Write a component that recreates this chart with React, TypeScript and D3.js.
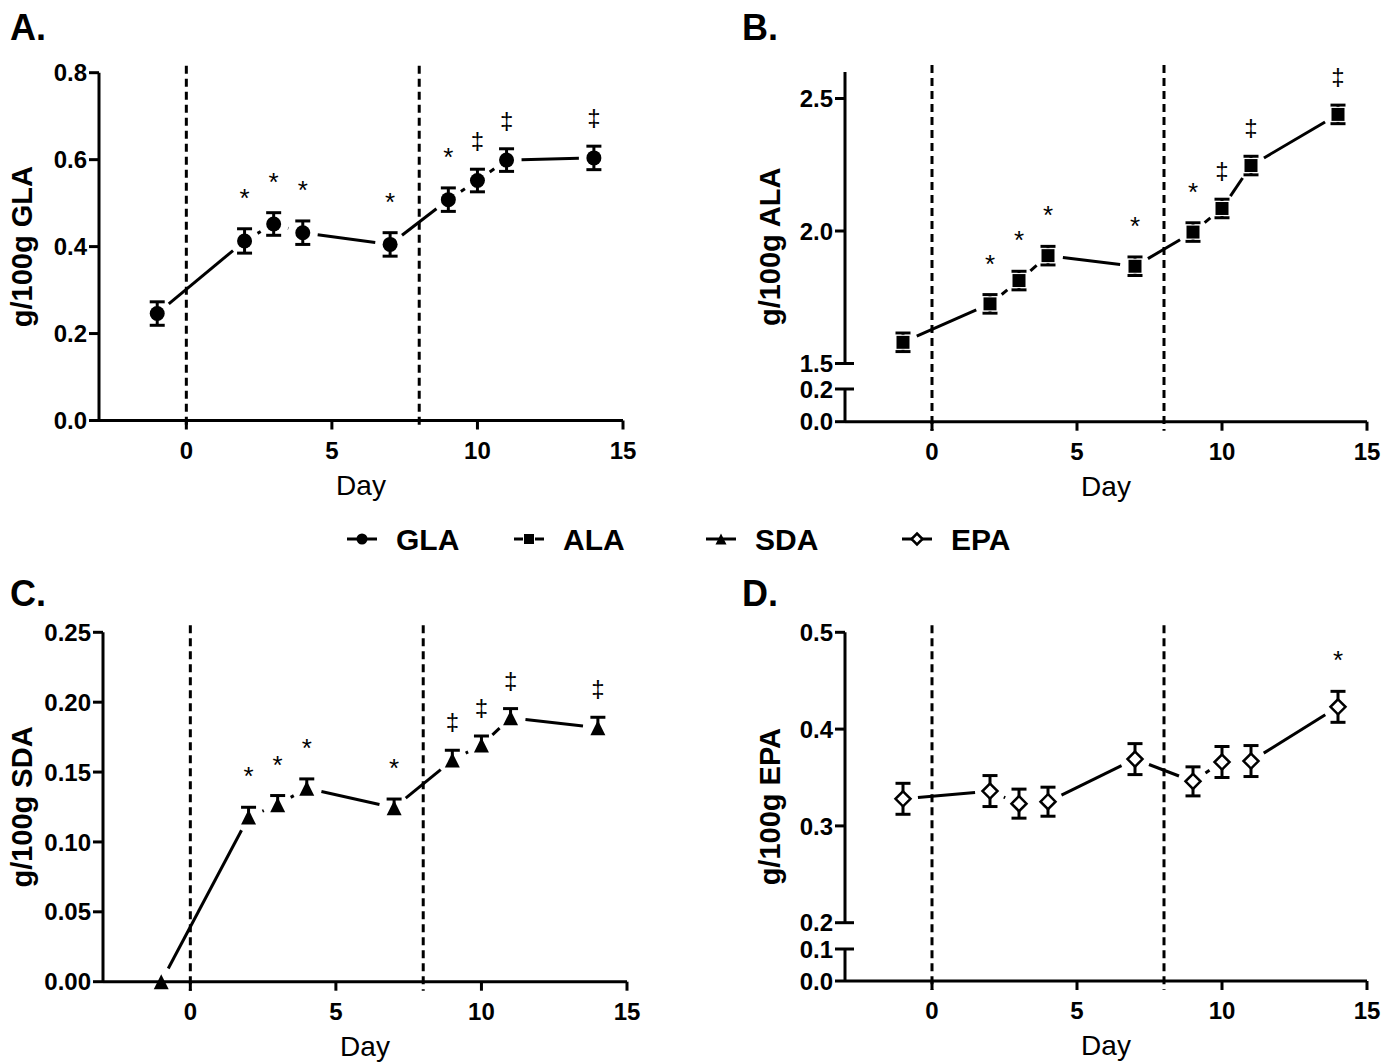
import { useEffect, useRef } from 'react';
import * as d3 from 'd3';

// sampling days and the two intervention markers
const days = [-1, 2, 3, 4, 7, 9, 10, 11, 14];
const phaseLines = [0, 8];
const xTicks = [0, 5, 10, 15];

// GLA (g/100g)
const glaMean = [0.246, 0.413, 0.452, 0.432, 0.405, 0.508, 0.552, 0.599, 0.604];
const glaErr = [0.027, 0.028, 0.026, 0.027, 0.027, 0.027, 0.026, 0.026, 0.027];
const glaSig = ['', '*', '*', '*', '*', '*', '‡', '‡', '‡'];

// ALA (g/100g)
const alaMean = [1.58, 1.725, 1.813, 1.907, 1.867, 1.996, 2.085, 2.247, 2.44];
const alaErr = [0.035, 0.035, 0.035, 0.035, 0.035, 0.035, 0.035, 0.035, 0.035];
const alaSig = ['', '*', '*', '*', '*', '*', '‡', '‡', '‡'];

// SDA (g/100g)
const sdaMean = [0, 0.1178, 0.1266, 0.1385, 0.1245, 0.1586, 0.1693, 0.1888, 0.1817];
const sdaErr = [0, 0.007, 0.0066, 0.0066, 0.0062, 0.007, 0.0065, 0.0066, 0.0075];
const sdaSig = ['', '*', '*', '*', '*', '‡', '‡', '‡', '‡'];

// EPA (g/100g)
const epaMean = [0.328, 0.336, 0.323, 0.325, 0.369, 0.346, 0.366, 0.367, 0.423];
const epaErr = [0.016, 0.016, 0.015, 0.015, 0.016, 0.015, 0.016, 0.016, 0.016];
const epaSig = ['', '', '', '', '', '', '', '', '*'];

const legendNames = ['GLA', 'ALA', 'SDA', 'EPA'];

const FONT = 'Arial, "Liberation Sans", sans-serif';

const App = () => {
    const ref = useRef(null);

    useEffect(() => {
        const svg = d3.select(ref.current);
        svg.selectAll('*').remove();

        const panels = [
            {
                letter: 'A.', lx: 10, ly: 40, title: 'g/100g GLA', titleX: 22,
                xRange: [99, 623], mean: glaMean, err: glaErr, sig: glaSig, shape: 'circle', upOnly: false,
                segs: [{ domain: [0, 0.8], range: [420.5, 72.7], ticks: [0, 0.2, 0.4, 0.6, 0.8], fmt: '.1f' }],
            },
            {
                letter: 'B.', lx: 742, ly: 40, title: 'g/100g ALA', titleX: 770,
                xRange: [845, 1367], mean: alaMean, err: alaErr, sig: alaSig, shape: 'square', upOnly: false,
                segs: [
                    { domain: [1.5, 2.6], range: [363.5, 72], ticks: [1.5, 2.0, 2.5], fmt: '.1f', breakBottom: true },
                    { domain: [0, 0.2], range: [421.7, 389], ticks: [0, 0.2], fmt: '.1f', breakTop: true },
                ],
            },
            {
                letter: 'C.', lx: 10, ly: 606, title: 'g/100g SDA', titleX: 22,
                xRange: [103, 627], mean: sdaMean, err: sdaErr, sig: sdaSig, shape: 'triangle', upOnly: true,
                segs: [{ domain: [0, 0.25], range: [981.7, 632.3], ticks: [0, 0.05, 0.1, 0.15, 0.2, 0.25], fmt: '.2f' }],
            },
            {
                letter: 'D.', lx: 742, ly: 606, title: 'g/100g EPA', titleX: 770,
                xRange: [845, 1367], mean: epaMean, err: epaErr, sig: epaSig, shape: 'diamond', upOnly: false,
                segs: [
                    { domain: [0.2, 0.5], range: [922.7, 632.3], ticks: [0.2, 0.3, 0.4, 0.5], fmt: '.1f', breakBottom: true },
                    { domain: [0, 0.1], range: [981, 949], ticks: [0, 0.1], fmt: '.1f', breakTop: true },
                ],
            },
        ];

        // draws one marker glyph at (cx, cy)
        const drawMarker = (g, shape, cx, cy, s) => {
            if (shape === 'circle') {
                g.append('circle').attr('cx', cx).attr('cy', cy).attr('r', s).attr('fill', 'black');
            } else if (shape === 'square') {
                g.append('rect').attr('x', cx - s).attr('y', cy - s).attr('width', 2 * s).attr('height', 2 * s)
                    .attr('fill', 'black').attr('stroke', 'white').attr('stroke-width', 1);
            } else if (shape === 'triangle') {
                g.append('path')
                    .attr('d', `M${cx},${cy - s}L${cx + s},${cy + s}L${cx - s},${cy + s}Z`)
                    .attr('fill', 'black');
            } else {
                g.append('path')
                    .attr('d', `M${cx},${cy - s}L${cx + s},${cy}L${cx},${cy + s}L${cx - s},${cy}Z`)
                    .attr('fill', 'white').attr('stroke', 'black').attr('stroke-width', 2.5);
            }
        };

        const markerSize = { circle: 7.5, square: 7, triangle: 7.5, diamond: 7.5 };

        panels.forEach((p) => {
            const g = svg.append('g');
            const x = d3.scaleLinear().domain([-3, 15]).range(p.xRange);
            const segScales = p.segs.map((s) => d3.scaleLinear().domain(s.domain).range(s.range));
            const y = (v) => {
                for (let i = 0; i < p.segs.length; i++) {
                    if (v >= p.segs[i].domain[0] || i === p.segs.length - 1) return segScales[i](v);
                }
                return 0;
            };
            const axisX = p.xRange[0];
            const axisY = y(0);
            const top = d3.min(p.segs, (s) => s.range[1]);
            const bottom = p.segs[p.segs.length - 1].range[0];

            // panel letter
            g.append('text').attr('x', p.lx).attr('y', p.ly).text(p.letter)
                .attr('font-family', FONT).attr('font-weight', 'bold').attr('font-size', 36);

            // y title
            g.append('text')
                .attr('transform', `translate(${p.titleX},${(top + bottom) / 2}) rotate(-90)`)
                .attr('text-anchor', 'middle').attr('dominant-baseline', 'central')
                .attr('font-family', FONT).attr('font-weight', 'bold').attr('font-size', 29)
                .text(p.title);

            // y axis segments
            p.segs.forEach((s, i) => {
                const sc = segScales[i];
                g.append('line').attr('x1', axisX).attr('x2', axisX)
                    .attr('y1', s.range[0]).attr('y2', s.range[1])
                    .attr('stroke', 'black').attr('stroke-width', 3);
                s.ticks.forEach((t) => {
                    g.append('line').attr('x1', axisX - 10).attr('x2', axisX)
                        .attr('y1', sc(t)).attr('y2', sc(t))
                        .attr('stroke', 'black').attr('stroke-width', 3);
                    g.append('text').attr('x', axisX - 12).attr('y', sc(t)).attr('dy', '0.36em')
                        .attr('text-anchor', 'end')
                        .attr('font-family', FONT).attr('font-weight', 'bold').attr('font-size', 24)
                        .text(d3.format(s.fmt)(t));
                });
                if (s.breakBottom) {
                    g.append('line').attr('x1', axisX).attr('x2', axisX + 9)
                        .attr('y1', s.range[0]).attr('y2', s.range[0])
                        .attr('stroke', 'black').attr('stroke-width', 3);
                }
                if (s.breakTop) {
                    g.append('line').attr('x1', axisX).attr('x2', axisX + 9)
                        .attr('y1', s.range[1]).attr('y2', s.range[1])
                        .attr('stroke', 'black').attr('stroke-width', 3);
                }
            });

            // x axis
            g.append('line').attr('x1', axisX).attr('x2', x(15)).attr('y1', axisY).attr('y2', axisY)
                .attr('stroke', 'black').attr('stroke-width', 3);
            xTicks.forEach((t) => {
                g.append('line').attr('x1', x(t)).attr('x2', x(t)).attr('y1', axisY).attr('y2', axisY + 9)
                    .attr('stroke', 'black').attr('stroke-width', 3);
                g.append('text').attr('x', x(t)).attr('y', axisY + 38).attr('text-anchor', 'middle')
                    .attr('font-family', FONT).attr('font-weight', 'bold').attr('font-size', 24)
                    .text(t);
            });
            g.append('text').attr('x', (axisX + x(15)) / 2).attr('y', axisY + 74).attr('text-anchor', 'middle')
                .attr('font-family', FONT).attr('font-size', 28).text('Day');

            // dashed phase lines
            phaseLines.forEach((d) => {
                g.append('line').attr('x1', x(d)).attr('x2', x(d)).attr('y1', top - 7).attr('y2', axisY + 9)
                    .attr('stroke', 'black').attr('stroke-width', 3).attr('stroke-dasharray', '8,5');
            });

            // connecting line, cut back around each marker
            const pts = days.map((d, i) => [x(d), y(p.mean[i])]);
            const gap = 15;
            const line = d3.line();
            for (let i = 0; i < pts.length - 1; i++) {
                const [x1, y1] = pts[i];
                const [x2, y2] = pts[i + 1];
                const len = Math.hypot(x2 - x1, y2 - y1);
                if (len <= 2 * gap) continue;
                const ux = (x2 - x1) / len;
                const uy = (y2 - y1) / len;
                g.append('path')
                    .attr('d', line([[x1 + ux * gap, y1 + uy * gap], [x2 - ux * gap, y2 - uy * gap]]))
                    .attr('stroke', 'black').attr('stroke-width', 3).attr('fill', 'none');
            }

            // error bars, markers, significance marks
            days.forEach((d, i) => {
                const cx = x(d);
                const cy = y(p.mean[i]);
                const e = p.err[i];
                if (e > 0) {
                    const yHi = y(p.mean[i] + e);
                    const yLo = p.upOnly ? cy : y(p.mean[i] - e);
                    g.append('line').attr('x1', cx).attr('x2', cx).attr('y1', yHi).attr('y2', yLo)
                        .attr('stroke', 'black').attr('stroke-width', 3);
                    g.append('line').attr('x1', cx - 7.5).attr('x2', cx + 7.5).attr('y1', yHi).attr('y2', yHi)
                        .attr('stroke', 'black').attr('stroke-width', 3);
                    if (!p.upOnly) {
                        g.append('line').attr('x1', cx - 7.5).attr('x2', cx + 7.5).attr('y1', yLo).attr('y2', yLo)
                            .attr('stroke', 'black').attr('stroke-width', 3);
                    }
                }
                drawMarker(g, p.shape, cx, cy, markerSize[p.shape]);

                const s = p.sig[i];
                if (s) {
                    const topY = y(p.mean[i] + e);
                    const star = s === '*';
                    const base = star ? topY - 37 + 15 : topY - 27 + 7;
                    g.append('text').attr('x', cx).attr('y', base).attr('text-anchor', 'middle')
                        .attr('font-family', FONT).attr('font-size', star ? 26 : 24).attr('fill', 'black')
                        .text(s);
                }
            });
        });

        // shared legend
        const legendX = [362, 529, 721, 917];
        const legendShapes = ['circle', 'square', 'triangle', 'diamond'];
        const ly = 539;
        legendNames.forEach((name, i) => {
            const g = svg.append('g');
            const cx = legendX[i];
            g.append('line').attr('x1', cx - 15).attr('x2', cx + 15).attr('y1', ly).attr('y2', ly)
                .attr('stroke', 'black').attr('stroke-width', 3);
            drawMarker(g, legendShapes[i], cx, ly, 5.5);
            g.append('text').attr('x', cx + 34).attr('y', ly).attr('dy', '0.36em')
                .attr('font-family', FONT).attr('font-weight', 'bold').attr('font-size', 30)
                .text(name);
        });

        return () => svg.selectAll('*').remove();
    }, []);

    return (
        <svg ref={ref} width={1398} height={1063}
            style={{ position: 'absolute', left: 0, top: 0, background: 'white' }} />
    );
};

export default App;
